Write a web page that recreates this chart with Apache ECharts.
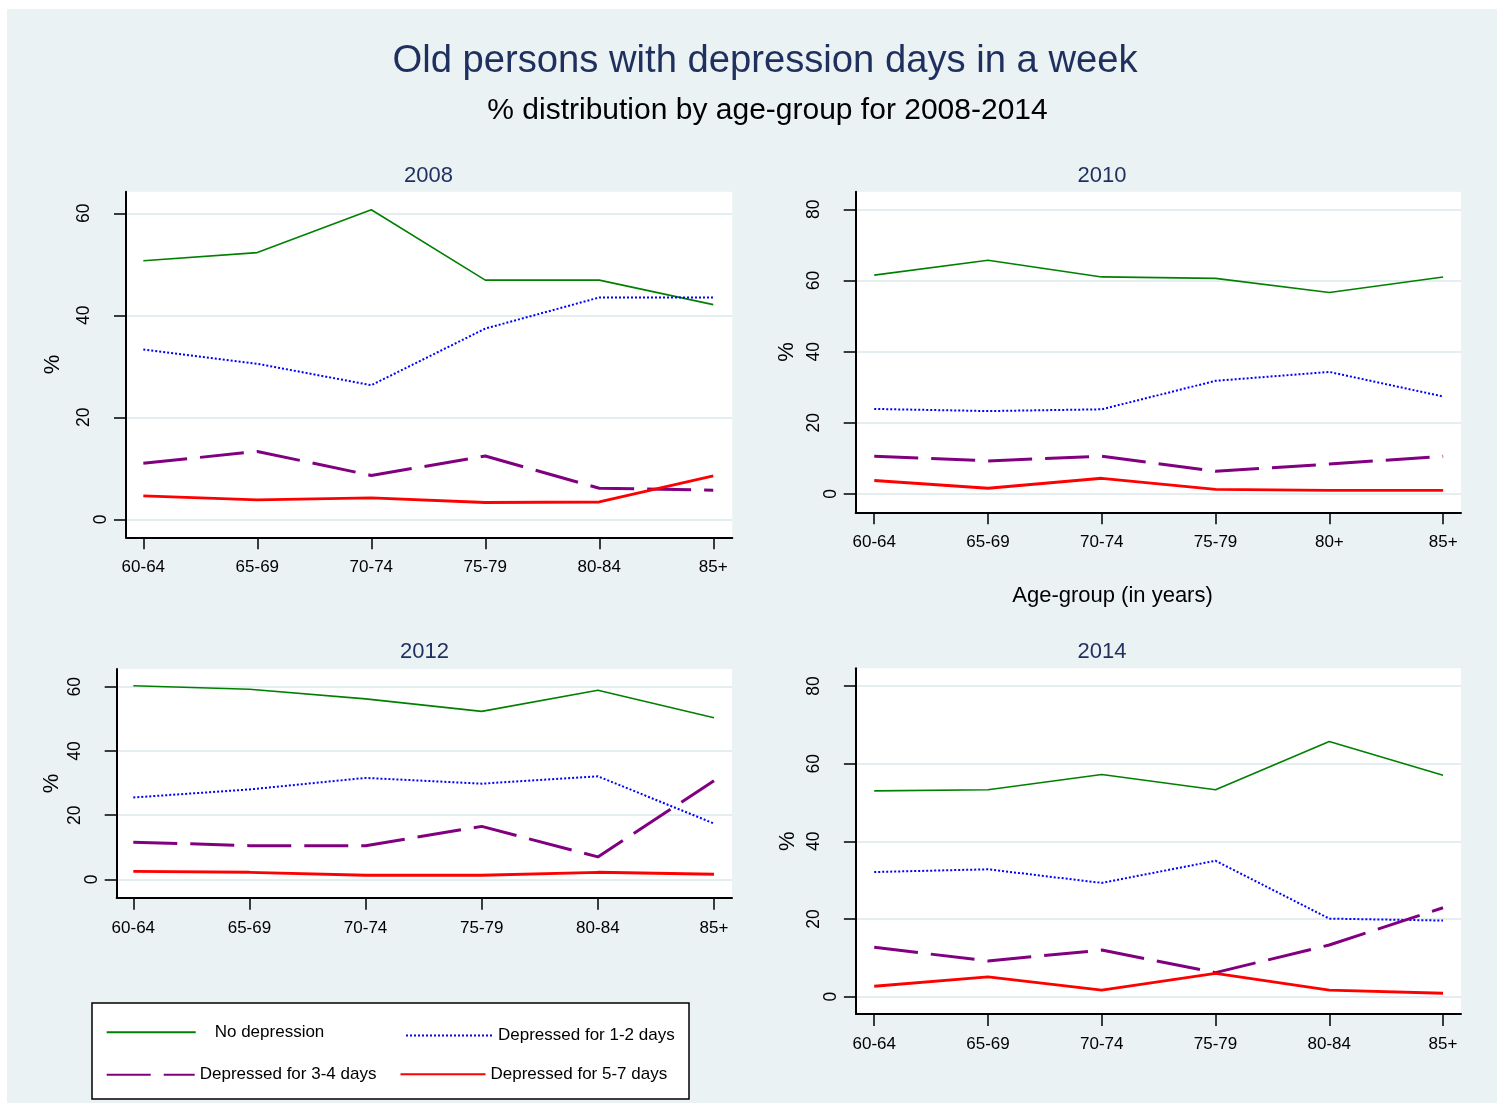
<!DOCTYPE html>
<html>
<head>
<meta charset="utf-8">
<title>Old persons with depression days in a week</title>
<script src="https://cdn.jsdelivr.net/npm/echarts@6/dist/echarts.min.js"></script>
<style>
  html, body { margin: 0; padding: 0; background: #ffffff; }
  #chart { width: 1499px; height: 1103px; }
</style>
</head>
<body>
<div id="chart"></div>
<script>
// Age-group categories (the 2010 survey labels its fifth group "80+")
const ageGroups = ['60-64', '65-69', '70-74', '75-79', '80-84', '85+'];
const ageGroups2010 = ['60-64', '65-69', '70-74', '75-79', '80+', '85+'];
const years = ['2008', '2010', '2012', '2014'];
const yTicks60 = [0, 20, 40, 60];
const yTicks80 = [0, 20, 40, 60, 80];
const seriesNames = ['No depression', 'Depressed for 1-2 days', 'Depressed for 3-4 days', 'Depressed for 5-7 days'];

// % of old persons by number of depressed days in a week
const noDep2008 = [50.7, 52.3, 60.7, 46.9, 46.9, 42.1];
const days12_2008 = [33.3, 30.5, 26.3, 37.4, 43.5, 43.5];
const days34_2008 = [11.0, 13.3, 8.6, 12.4, 6.1, 5.7];
const days57_2008 = [4.6, 3.8, 4.2, 3.3, 3.4, 8.5];

const noDep2010 = [61.5, 65.7, 61.0, 60.6, 56.6, 61.0];
const days12_2010 = [23.9, 23.3, 23.8, 31.8, 34.3, 27.4];
const days34_2010 = [10.6, 9.3, 10.6, 6.4, 8.4, 10.6];
const days57_2010 = [3.8, 1.6, 4.4, 1.3, 1.0, 1.0];

const noDep2012 = [60.3, 59.2, 56.2, 52.3, 58.9, 50.3];
const days12_2012 = [25.5, 28.0, 31.6, 29.8, 32.1, 17.4];
const days34_2012 = [11.6, 10.5, 10.5, 16.5, 7.0, 30.7];
const days57_2012 = [2.5, 2.2, 1.3, 1.3, 2.2, 1.6];

const noDep2014 = [53.0, 53.3, 57.2, 53.3, 65.7, 57.0];
const days12_2014 = [32.1, 32.8, 29.3, 35.0, 20.1, 19.6];
const days34_2014 = [12.7, 9.2, 12.0, 6.2, 13.3, 22.9];
const days57_2014 = [2.7, 5.1, 1.7, 6.0, 1.7, 0.9];

const panelSeries = [
  [noDep2008, days12_2008, days34_2008, days57_2008],
  [noDep2010, days12_2010, days34_2010, days57_2010],
  [noDep2012, days12_2012, days34_2012, days57_2012],
  [noDep2014, days12_2014, days34_2014, days57_2014]
];
const panelCategories = [ageGroups, ageGroups2010, ageGroups, ageGroups];
const panelYTicks = [yTicks60, yTicks80, yTicks60, yTicks80];

// Panel geometry: plot rectangle, axis ranges, title anchor, y-name gap
const panels = [
  { left: 126, top: 191.7, right: 732.3, bottom: 537.3, xMin: -0.152, xMax: 5.167, yMin: -3.53, yMax: 64.24, titleX: 428.5, titleTop: 165, nameGap: 62 },
  { left: 855.7, top: 191.7, right: 1461, bottom: 512.3, xMin: -0.163, xMax: 5.157, yMin: -5.15, yMax: 84.95, titleX: 1102, titleTop: 165, nameGap: 58 },
  { left: 116.7, top: 669, right: 732, bottom: 897.7, xMin: -0.143, xMax: 5.155, yMin: -5.7, yMax: 65.5, titleX: 424.5, titleTop: 641, nameGap: 54 },
  { left: 855.9, top: 668.3, right: 1461, bottom: 1014, xMin: -0.161, xMax: 5.158, yMin: -4.46, yMax: 84.56, titleX: 1102, titleTop: 641, nameGap: 57 }
];

const FONT = 'Liberation Sans, Arial, sans-serif';
const NAVY = '#1f2f5e';
const lineStyles = [
  { color: '#008000', width: 1.6, type: 'solid' },
  { color: '#0000ff', width: 2, type: [2, 2] },
  { color: '#800080', width: 3, type: [44, 13] },
  { color: '#ff0000', width: 2.9, type: 'solid' }
];

const grids = [], xAxes = [], yAxes = [], series = [];
panels.forEach((p, k) => {
  grids.push({
    left: p.left, top: p.top, width: p.right - p.left, height: p.bottom - p.top,
    show: true, backgroundColor: '#ffffff', borderWidth: 0
  });
  const cats = panelCategories[k];
  const catIdx = cats.map((c, i) => i);
  xAxes.push({
    type: 'value', gridIndex: k, min: p.xMin, max: p.xMax, position: 'bottom',
    axisLine: { show: true, onZero: false, lineStyle: { color: '#000', width: 2 } },
    axisTick: { show: true, customValues: catIdx, length: 12, lineStyle: { color: '#000', width: 1.5 } },
    axisLabel: {
      show: true, customValues: catIdx, margin: 22,
      formatter: v => cats[Math.round(v)],
      color: '#000', fontSize: 17, fontFamily: FONT, lineHeight: 17
    },
    splitLine: { show: false }
  });
  const ticks = panelYTicks[k];
  yAxes.push({
    type: 'value', gridIndex: k, min: p.yMin, max: p.yMax, position: 'left',
    name: '%', nameLocation: 'middle', nameRotate: 90, nameGap: p.nameGap,
    nameTextStyle: { color: '#000', fontSize: 22, fontFamily: FONT },
    axisLine: { show: true, onZero: false, lineStyle: { color: '#000', width: 2 } },
    axisTick: { show: true, customValues: ticks, length: 12, lineStyle: { color: '#000', width: 1.5 } },
    axisLabel: {
      show: true, customValues: ticks, rotate: 90, margin: 16.5,
      formatter: v => (v === 0 ? '{z|0}' : '{n|' + v + '}'),
      rich: {
        z: { color: '#000', fontSize: 17.5, fontFamily: FONT, lineHeight: 17 },
        n: { color: '#000', fontSize: 17.5, fontFamily: FONT, lineHeight: 17, padding: [0, 0, 34, 0] }
      }
    },
    splitLine: { show: true, lineStyle: { color: '#e4edf0', width: 2 } }
  });
  panelSeries[k].forEach((vals, s) => {
    series.push({
      name: seriesNames[s], type: 'line', xAxisIndex: k, yAxisIndex: k,
      data: vals.map((v, i) => [i, v]),
      symbol: 'none', lineStyle: lineStyles[s], itemStyle: { color: lineStyles[s].color },
      z: 2 + s, silent: true
    });
  });
});

const titles = [
  { text: 'Old persons with depression days in a week', left: 765, top: 42, textAlign: 'center', padding: 0,
    textStyle: { color: NAVY, fontSize: 38.2, fontWeight: 'normal', fontFamily: FONT, lineHeight: 38.2 } },
  { text: '% distribution by age-group for 2008-2014', left: 767.5, top: 96, textAlign: 'center', padding: 0,
    textStyle: { color: '#000', fontSize: 30, fontWeight: 'normal', fontFamily: FONT, lineHeight: 30 } },
  { text: 'Age-group (in years)', left: 1112.5, top: 585, textAlign: 'center', padding: 0,
    textStyle: { color: '#000', fontSize: 22, fontWeight: 'normal', fontFamily: FONT, lineHeight: 22 } }
];
panels.forEach((p, k) => {
  titles.push({ text: years[k], left: p.titleX, top: p.titleTop, textAlign: 'center', padding: 0,
    textStyle: { color: NAVY, fontSize: 22, fontWeight: 'normal', fontFamily: FONT, lineHeight: 22 } });
});

// Legend: one single-item legend per slot of the 2x2 key box
const legendSlots = [
  { name: seriesNames[0], left: 105.7, top: 1023.7, itemWidth: 89, gap: 14 },
  { name: seriesNames[1], left: 405, top: 1027, itemWidth: 87, gap: 0 },
  { name: seriesNames[2], left: 105.7, top: 1066.3, itemWidth: 88, gap: 0 },
  { name: seriesNames[3], left: 399.5, top: 1065.7, itemWidth: 85, gap: 0 }
];
const legends = legendSlots.map(l => ({
  data: [l.name], left: l.left, top: l.top, orient: 'horizontal', padding: 0,
  itemWidth: l.itemWidth, itemHeight: 14, selectedMode: false,
  itemStyle: { opacity: 0 },
  textStyle: { color: '#000', fontSize: 17, fontFamily: FONT, padding: [0, 0, 0, l.gap] }
}));

const chart = echarts.init(document.getElementById('chart'), null, { renderer: 'canvas' });
chart.setOption({
  animation: false,
  backgroundColor: '#ffffff',
  textStyle: { fontFamily: FONT },
  title: titles,
  legend: legends,
  grid: grids,
  xAxis: xAxes,
  yAxis: yAxes,
  series: series,
  graphic: [
    { type: 'rect', z: -20, silent: true, shape: { x: 7, y: 9, width: 1490, height: 1094 },
      style: { fill: '#eaf2f3' } },
    { type: 'rect', z: -10, silent: true, shape: { x: 92, y: 1003, width: 597, height: 96 },
      style: { fill: '#ffffff', stroke: '#000', lineWidth: 1.5 } }
  ]
});
</script>
</body>
</html>
